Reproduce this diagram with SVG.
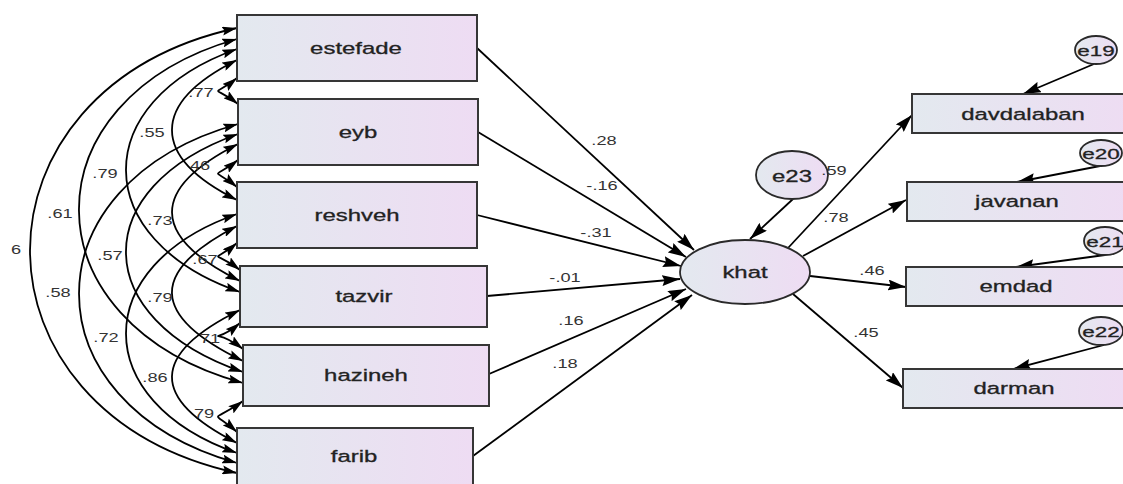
<svg xmlns="http://www.w3.org/2000/svg" width="1123" height="484" viewBox="0 0 1123 484">
<defs>
<linearGradient id="fillg" x1="0" y1="0" x2="1" y2="0">
<stop offset="0" stop-color="#e3e9ef"/>
<stop offset="1" stop-color="#eedcf3"/>
</linearGradient>
<marker id="ah" viewBox="0 0 15 9" refX="15" refY="4.5" markerWidth="15" markerHeight="9" markerUnits="userSpaceOnUse" orient="auto-start-reverse">
<path d="M0,0 L15,4.5 L0,9 L2.5,4.5 z" fill="#000"/>
</marker>
<marker id="ahb" viewBox="0 0 18 11" refX="18" refY="5.5" markerWidth="18" markerHeight="11" markerUnits="userSpaceOnUse" orient="auto">
<path d="M0,0 L18,5.5 L0,11 L2.5,5.5 z" fill="#000"/>
</marker>
</defs>
<style>
.box{fill:url(#fillg);stroke:#363636;stroke-width:2}
.lat{fill:url(#fillg);stroke:#2a2a2a;stroke-width:1.8}
.t{font-family:"Liberation Sans",Arial,sans-serif;font-size:16.5px;fill:#222;stroke:#222;stroke-width:0.3;text-anchor:middle}
.te{font-family:"Liberation Sans",Arial,sans-serif;font-size:15.5px;fill:#222;stroke:#222;stroke-width:0.3;text-anchor:middle}
.n{font-family:"Liberation Sans",Arial,sans-serif;font-size:13px;fill:#333;text-anchor:middle}
.cov{fill:none;stroke:#000;stroke-width:1.8;marker-start:url(#ah);marker-end:url(#ah)}
.path{fill:none;stroke:#000;stroke-width:1.8;marker-end:url(#ahb)}
</style>
<g id="connectors">
<path class="cov" d="M237,78 C211.5,98.8 211.5,83.2 238,104"/>
<path class="cov" d="M237,60 C150.3,103.3 150.3,156.7 237,200"/>
<path class="cov" d="M237,49 C88.5,101.5 88.5,239.5 240,292"/>
<path class="cov" d="M237,39 C25.3,99.1 25.3,322.9 243,383"/>
<path class="cov" d="M237,28 C-39,88.7 -39,412.3 237,473"/>
<path class="cov" d="M238,160 C211.5,180.8 211.5,166.2 237,187"/>
<path class="cov" d="M238,144 C149.7,188.7 149.7,236.3 240,281"/>
<path class="cov" d="M238,134 C87.8,187.4 87.8,318.6 243,372"/>
<path class="cov" d="M238,124 C26.2,183.2 26.2,403.8 237,463"/>
<path class="cov" d="M237,243 C211.2,264.9 211.2,248.1 240,270"/>
<path class="cov" d="M237,226 C149.3,271.3 149.3,315.7 243,361"/>
<path class="cov" d="M237,214 C89,265.8 89,401.2 237,453"/>
<path class="cov" d="M240,323 C210.2,348 210.2,324 243,349"/>
<path class="cov" d="M240,310 C149.8,354.3 149.8,398.7 237,443"/>
<path class="cov" d="M243,401 C210.7,424.5 210.7,408.5 237,432"/>
<path class="path" d="M477,48 L694,250"/>
<path class="path" d="M478,132 L686,257"/>
<path class="path" d="M477,215 L681,266"/>
<path class="path" d="M487,296 L680,279"/>
<path class="path" d="M489,374 L686,289"/>
<path class="path" d="M473,456 L692,295"/>
<path class="path" d="M788,248 L912,115"/>
<path class="path" d="M803,256 L906,200"/>
<path class="path" d="M810,276 L906,287"/>
<path class="path" d="M793,294 L903,388"/>
<path class="path" d="M793,199 L750,239"/>
<path class="path" d="M1094,64 L1023,94"/>
<path class="path" d="M1100,166 L1017,182"/>
<path class="path" d="M1105,255 L1016,267"/>
<path class="path" d="M1104,345 L1013,369"/>
<g id="cov-labels">
<text class="n" transform="translate(201 96.5) scale(1.4 1)">.77</text>
<text class="n" transform="translate(152 136.5) scale(1.4 1)">.55</text>
<text class="n" transform="translate(105 177.5) scale(1.4 1)">.79</text>
<text class="n" transform="translate(60 217.5) scale(1.4 1)">.61</text>
<text class="n" transform="translate(16 253.5) scale(1.4 1)">6</text>
<text class="n" transform="translate(200 169.5) scale(1.4 1)">46</text>
<text class="n" transform="translate(160 224.5) scale(1.4 1)">.73</text>
<text class="n" transform="translate(110 259.5) scale(1.4 1)">.57</text>
<text class="n" transform="translate(58 296.5) scale(1.4 1)">.58</text>
<text class="n" transform="translate(205 263.5) scale(1.4 1)">.67</text>
<text class="n" transform="translate(160 301.5) scale(1.4 1)">.79</text>
<text class="n" transform="translate(106 341.5) scale(1.4 1)">.72</text>
<text class="n" transform="translate(210 342.5) scale(1.4 1)">71</text>
<text class="n" transform="translate(155 381.5) scale(1.4 1)">.86</text>
<text class="n" transform="translate(204 417.5) scale(1.4 1)">79</text>
</g>
<g id="path-labels">
<text class="n" transform="translate(604 144.5) scale(1.4 1)">.28</text>
<text class="n" transform="translate(602 189.5) scale(1.4 1)">-.16</text>
<text class="n" transform="translate(596 236.5) scale(1.4 1)">-.31</text>
<text class="n" transform="translate(565 281.5) scale(1.4 1)">-.01</text>
<text class="n" transform="translate(571 324.5) scale(1.4 1)">.16</text>
<text class="n" transform="translate(565 367.5) scale(1.4 1)">.18</text>
<text class="n" transform="translate(836 221.5) scale(1.4 1)">.78</text>
<text class="n" transform="translate(872 274.5) scale(1.4 1)">.46</text>
<text class="n" transform="translate(866 336.5) scale(1.4 1)">.45</text>
</g>
</g>
<g id="estefade"><rect class="box" x="237" y="15" width="240" height="66"/><text class="t" transform="translate(356 54) scale(1.45 1)">estefade</text></g>
<g id="eyb"><rect class="box" x="238" y="99" width="240" height="66"/><text class="t" transform="translate(358 138) scale(1.45 1)">eyb</text></g>
<g id="reshveh"><rect class="box" x="237" y="182" width="240" height="66"/><text class="t" transform="translate(357 221) scale(1.45 1)">reshveh</text></g>
<g id="tazvir"><rect class="box" x="240" y="266" width="247" height="61"/><text class="t" transform="translate(364 302) scale(1.45 1)">tazvir</text></g>
<g id="hazineh"><rect class="box" x="243" y="345" width="246" height="61"/><text class="t" transform="translate(366 381) scale(1.45 1)">hazineh</text></g>
<g id="farib"><rect class="box" x="237" y="428" width="236" height="70"/><text class="t" transform="translate(354 462) scale(1.45 1)">farib</text></g>
<g id="khat"><ellipse class="lat" cx="745" cy="272" rx="65" ry="32"/><text class="t" transform="translate(745 278) scale(1.45 1)">khat</text></g>
<g id="e23"><ellipse class="lat" cx="792" cy="175" rx="36" ry="24"/><text class="t" transform="translate(792 182) scale(1.45 1)">e23</text></g>
<text class="n" transform="translate(834 174.5) scale(1.4 1)">.59</text>
<g id="davdalaban"><rect class="box" x="912" y="94" width="222" height="39"/><text class="t" transform="translate(1023 120) scale(1.45 1)">davdalaban</text></g>
<g id="javanan"><rect class="box" x="907" y="182" width="222" height="39"/><text class="t" transform="translate(1017 207) scale(1.45 1)">javanan</text></g>
<g id="emdad"><rect class="box" x="906" y="267" width="222" height="39"/><text class="t" transform="translate(1016 292) scale(1.45 1)">emdad</text></g>
<g id="darman"><rect class="box" x="903" y="369" width="222" height="39"/><text class="t" transform="translate(1014 394) scale(1.45 1)">darman</text></g>
<g id="e19"><ellipse class="lat" cx="1096" cy="50" rx="21" ry="14"/><text class="te" transform="translate(1096 56) scale(1.45 1)">e19</text></g>
<g id="e20"><ellipse class="lat" cx="1101" cy="153" rx="21" ry="13"/><text class="te" transform="translate(1101 159) scale(1.45 1)">e20</text></g>
<g id="e21"><ellipse class="lat" cx="1105" cy="241" rx="21" ry="14"/><text class="te" transform="translate(1105 247) scale(1.45 1)">e21</text></g>
<g id="e22"><ellipse class="lat" cx="1101" cy="331" rx="22" ry="14"/><text class="te" transform="translate(1101 337) scale(1.45 1)">e22</text></g>
</svg>
